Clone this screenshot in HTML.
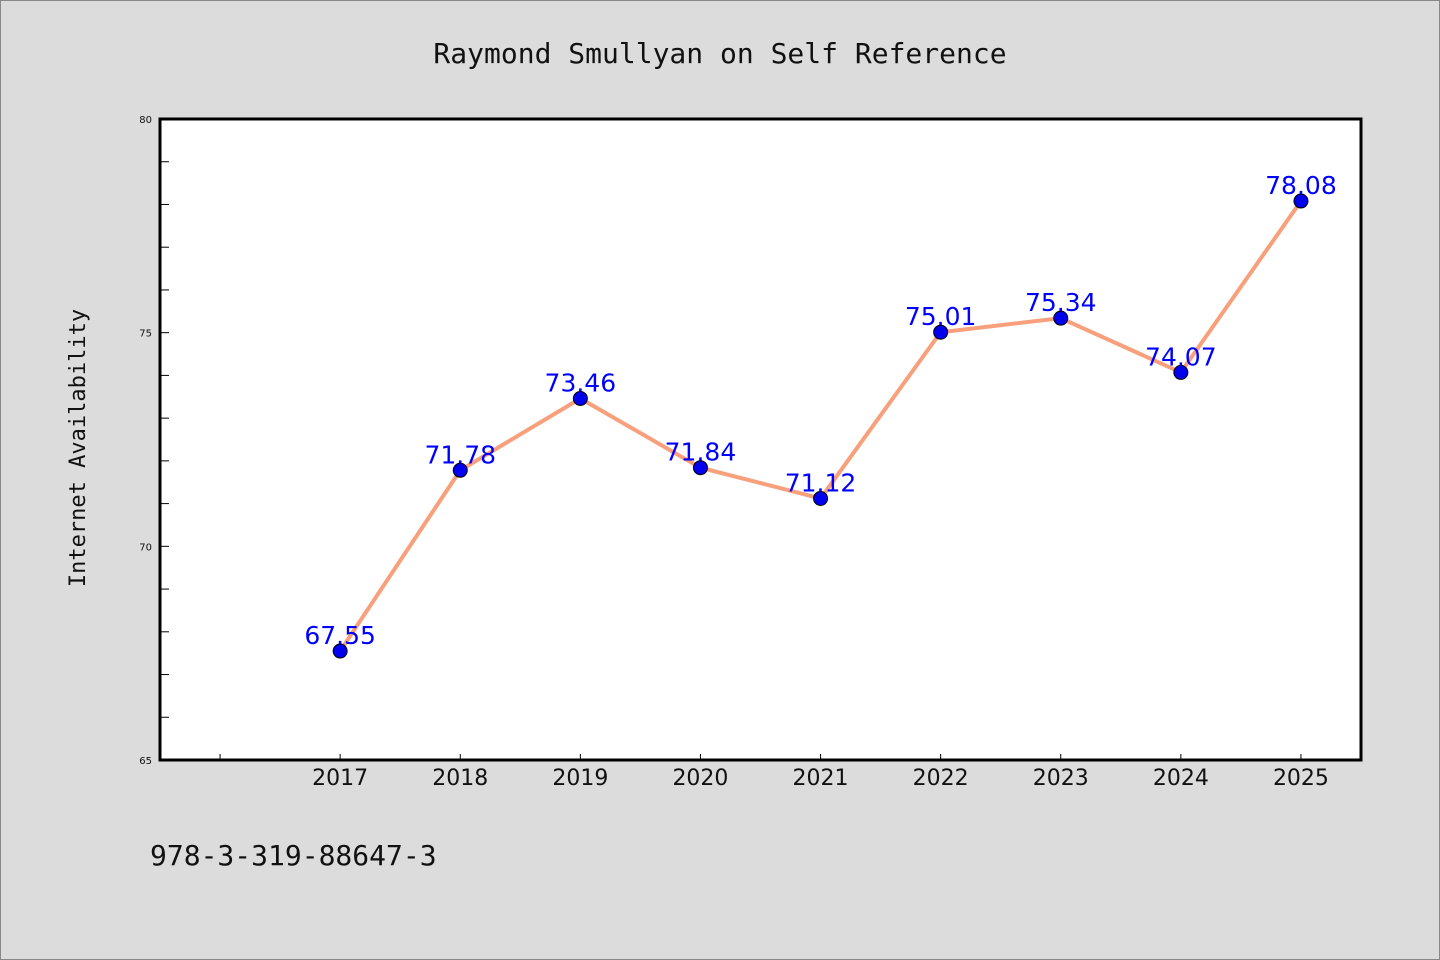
<!DOCTYPE html>
<html><head><meta charset="utf-8"><style>
html,body{margin:0;padding:0;background:#dcdcdc;}
svg{display:block;}
</style></head><body>
<svg width="1440" height="960" xmlns="http://www.w3.org/2000/svg">
<rect x="0.5" y="0.5" width="1439" height="959" fill="#dcdcdc" stroke="#888"/>
<text x="720" y="63" text-anchor="middle" font-family="'DejaVu Sans Mono','Liberation Mono',monospace" font-size="28" fill="#111">Raymond Smullyan on Self Reference</text>
<rect x="160" y="119" width="1201" height="641" fill="#fff" stroke="#000" stroke-width="3"/>
<text transform="translate(85,448) rotate(-90)" text-anchor="middle" font-family="'DejaVu Sans Mono','Liberation Mono',monospace" font-size="22" fill="#111">Internet Availability</text>
<text x="150" y="865" font-family="'DejaVu Sans Mono','Liberation Mono',monospace" font-size="28" fill="#111">978-3-319-88647-3</text>
<g id="axes"></g>
<g id="marks"></g>
</svg>
<script>
const years=[2017,2018,2019,2020,2021,2022,2023,2024,2025];
const values=[67.55,71.78,73.46,71.84,71.12,75.01,75.34,74.07,78.08];
const yTicks=[65,70,75,80];
const NS="http://www.w3.org/2000/svg";
const x0=160,x1=1361,y0=760,y1=119;
const xs=v=>x0+(v-2015.5)/10*(x1-x0);
const ys=v=>y0-(v-65)/15*(y0-y1);
function mk(t,a,p){const e=document.createElementNS(NS,t);for(const k in a)e.setAttribute(k,a[k]);p.appendChild(e);return e;}
const ax=document.getElementById('axes'),mg=document.getElementById('marks');
for(let v=66;v<80;v++){const l=mk('line',{x1:x0,x2:x0+9,y1:ys(v),y2:ys(v),stroke:'#000','stroke-width':1},ax);

}
yTicks.forEach(v=>{const t=mk('text',{x:x0-8,y:ys(v)+4,'text-anchor':'end','font-family':'DejaVu Sans, sans-serif','font-size':10,fill:'#111'},ax);t.textContent=v;

});
[2016].concat(years).forEach(yr=>{const l=mk('line',{x1:xs(yr),x2:xs(yr),y1:y0,y2:y0-6,stroke:'#000','stroke-width':1},ax);

});
years.forEach(yr=>{const t=mk('text',{x:xs(yr),y:y0+25,'text-anchor':'middle','font-family':'DejaVu Sans, sans-serif','font-size':22,fill:'#111'},ax);t.textContent=yr;

});
const pl=mk('polyline',{points:years.map((y,i)=>xs(y)+','+ys(values[i])).join(' '),fill:'none',stroke:'#f8a07c','stroke-width':4},mg);


years.forEach((yr,i)=>{const c=mk('circle',{cx:xs(yr),cy:ys(values[i]),r:7,fill:'#0000ee',stroke:'#000','stroke-width':1},mg);


const t=mk('text',{x:xs(yr),y:ys(values[i])-7,'text-anchor':'middle','font-family':'DejaVu Sans, sans-serif','font-size':25,fill:'#0000ff'},mg);t.textContent=values[i].toFixed(2);

});
</script>
</body></html>
